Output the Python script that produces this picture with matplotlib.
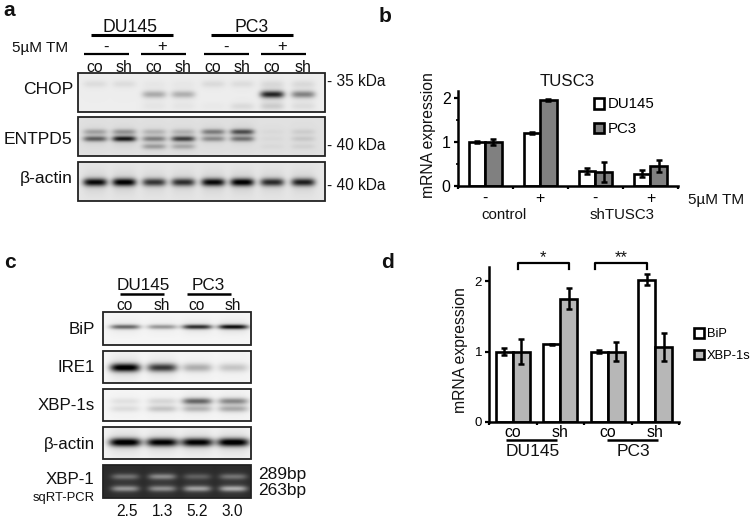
import numpy as np
import matplotlib
matplotlib.use("Agg")
import matplotlib.pyplot as plt
from matplotlib.patches import Rectangle

plt.rcParams['font.family'] = ['Liberation Sans', 'DejaVu Sans']

# panel b
b_groups = ['-', '+', '-', '+']
b_du145 = [1.0, 1.2, 0.33, 0.27]
b_du145_err = [0.02, 0.02, 0.06, 0.08]
b_pc3 = [1.0, 1.96, 0.31, 0.45]
b_pc3_err = [0.07, 0.03, 0.23, 0.13]

# panel d
d_groups = ['co', 'sh', 'co', 'sh']
d_bip = [1.0, 1.1, 1.0, 2.02]
d_bip_err = [0.05, 0.01, 0.02, 0.08]
d_xbp = [1.0, 1.75, 1.0, 1.06]
d_xbp_err = [0.18, 0.15, 0.14, 0.2]

# blots: band strength per lane, one row for each band
a_lanes = [95, 124, 154, 183, 213, 242, 272, 303]
chop_rows = [0.28, 0.55, 0.86]
chop_bands = [[0.07, 0.07, 0.02, 0.02, 0.08, 0.07, 0.06, 0.07],
              [0.0, 0.0, 0.28, 0.26, 0.0, 0.0, 0.85, 0.45],
              [0.0, 0.0, 0.03, 0.03, 0.02, 0.08, 0.12, 0.06]]
entpd_rows = [0.38, 0.56, 0.76]
entpd_bands = [[0.25, 0.3, 0.18, 0.17, 0.42, 0.62, 0.03, 0.08],
               [0.55, 0.85, 0.4, 0.68, 0.35, 0.45, 0.03, 0.1],
               [0.0, 0.0, 0.28, 0.22, 0.0, 0.0, 0.03, 0.06]]
a_actin_rows = [0.52]
a_actin_bands = [[0.95, 1.0, 0.75, 0.78, 0.95, 1.0, 0.8, 0.85]]

c_lanes = [125, 162, 197, 233]
bip_rows = [0.45]
bip_bands = [[0.6, 0.4, 0.85, 1.0]]
ire_rows = [0.52]
ire_bands = [[1.1, 0.8, 0.3, 0.2]]
xbp_rows = [0.38, 0.62]
xbp_bands = [[0.08, 0.12, 0.6, 0.45], [0.1, 0.2, 0.25, 0.3]]
c_actin_rows = [0.48]
c_actin_bands = [[1.1, 1.05, 1.05, 1.1]]
gel_rows = [0.35, 0.72]
gel_bands = [[0.3, 0.4, 0.22, 0.3], [0.45, 0.42, 0.5, 0.55]]


def blot(ax, x0, x1, y0, y1, lanes, rows, bands, bg, lane_w=13, band_h=0.09, dark=False):
    xs = np.arange(x0, x1, 0.5)
    ys = np.linspace(0, 1, int((y1 - y0) * 2))
    img = np.zeros((len(ys), len(xs)))
    for row, band in zip(rows, bands):
        for lane, s in zip(lanes, band):
            gx = np.exp(-((xs - lane) / lane_w) ** 4)
            gy = np.exp(-((ys - row) / band_h) ** 2)
            haze = np.exp(-((ys - row) / (band_h * 3)) ** 2)
            img += s * np.outer(gy + 0.1 * haze, gx)
    img = bg + img * 0.85 if dark else bg - img * 0.85
    ax.imshow(img, extent=(x0, x1, y1, y0), cmap='gray', vmin=0, vmax=1,
              aspect='auto', interpolation='bilinear', zorder=1)
    ax.add_patch(Rectangle((x0, y0), x1 - x0, y1 - y0, fill=False, ec='#222222', lw=1.3, zorder=2))


def bars(pos, groups, s1, e1, s2, e2, fc2, w, tick_size, pad):
    l, r, top, bot = pos
    a = fig.add_axes([l / 755, 1 - bot / 521, (r - l) / 755, (bot - top) / 521])
    a.patch.set_alpha(0)
    x = np.arange(len(groups)) + 0.5
    ek = dict(ecolor='k', elinewidth=1.8, capsize=2.5, capthick=1.8)
    h1 = a.bar(x - w / 2, s1, w, color='white', edgecolor='k', linewidth=1.9, yerr=e1, error_kw=ek)
    h2 = a.bar(x + w / 2, s2, w, color=fc2, edgecolor='k', linewidth=1.9, yerr=e2, error_kw=ek)
    a.set_xlim(0, len(groups))
    a.set_ylim(0, (bot - top) / yscale[pos])
    a.set_xticks(np.arange(len(groups) + 1))
    a.set_xticklabels([])
    a.set_xticks(x, groups, minor=True)
    a.tick_params(axis='x', which='major', length=2.5, width=1.6)
    a.tick_params(axis='x', which='minor', length=0, labelsize=11.4, pad=pad)
    a.set_yticks([0, 1, 2])
    a.tick_params(axis='y', length=3, width=1.6, labelsize=tick_size, pad=2)
    for s in ['top', 'right']:
        a.spines[s].set_visible(False)
    for s in ['left', 'bottom']:
        a.spines[s].set_linewidth(1.8)
    return a, h1, h2


fig = plt.figure(figsize=(7.55, 5.21), dpi=100)
ov = fig.add_axes([0, 0, 1, 1])

blot(ov, 78, 325, 73, 112, a_lanes, chop_rows, chop_bands, 0.93, lane_w=12, band_h=0.09)
blot(ov, 78, 325, 117, 156, a_lanes, entpd_rows, entpd_bands, 0.88, lane_w=12, band_h=0.07)
blot(ov, 78, 325, 162, 201, a_lanes, a_actin_rows, a_actin_bands, 0.9, lane_w=12, band_h=0.1)
blot(ov, 103, 251, 312, 345, c_lanes, bip_rows, bip_bands, 0.96, lane_w=15, band_h=0.07)
blot(ov, 103, 251, 351, 383, c_lanes, ire_rows, ire_bands, 0.96, lane_w=15, band_h=0.13)
blot(ov, 103, 251, 389, 421, c_lanes, xbp_rows, xbp_bands, 0.96, lane_w=15, band_h=0.1)
blot(ov, 103, 251, 427, 459, c_lanes, c_actin_rows, c_actin_bands, 0.95, lane_w=16, band_h=0.13)
blot(ov, 103, 251, 465, 498, c_lanes, gel_rows, gel_bands, 0.17, lane_w=14, band_h=0.09, dark=True)

ov.set_xlim(0, 755)
ov.set_ylim(521, 0)
ov.axis('off')


def label(x, y, s, size=11, ha='center', **kw):
    ov.text(x, y, s, fontsize=size, ha=ha, va='center', color='#111111', **kw)


def rule(x0, x1, y, lw=1.8):
    ov.plot([x0, x1], [y, y], color='k', lw=lw, solid_capstyle='butt')


# panel letters
for x, y, s in [(9, 10, 'a'), (385, 17, 'b'), (10, 262, 'c'), (387, 262, 'd')]:
    label(x, y, s, 15, fontweight='bold')

# panel a text
label(130, 27, 'DU145', 12.7)
label(252, 27, 'PC3', 12.7)
rule(91, 173, 35, 2.2)
rule(211, 293, 35, 2.2)
label(40, 48, '5µM TM', 11)
for x0, x1, s in [(84, 129, '-'), (141, 186, '+'), (204, 249, '-'), (261, 306, '+')]:
    rule(x0, x1, 54, 1.6)
    label((x0 + x1) / 2 - 1, 47, s, 12)
for x, s in zip(a_lanes, ['co', 'sh'] * 4):
    label(x, 68, s, 11.4)
label(73, 90, 'CHOP', 12.6, ha='right')
label(72, 140, 'ENTPD5', 12.6, ha='right')
label(73, 178, 'β-actin', 12.6, ha='right')
for y, s in [(82, '- 35 kDa'), (145, '- 40 kDa'), (185, '- 40 kDa')]:
    label(327, y, s, 11.2, ha='left')

# panel c text
label(143, 286, 'DU145', 12.3)
label(208, 286, 'PC3', 12.3)
rule(120, 164, 293.5)
rule(187, 231, 293.5)
for x, s in zip(c_lanes, ['co', 'sh', 'co', 'sh']):
    label(x, 305, s, 11.2)
for y, s in [(329, 'BiP'), (368, 'IRE1'), (406, 'XBP-1s'), (444, 'β-actin')]:
    label(95, y, s, 12.2, ha='right')
label(94, 480, 'XBP-1', 12.2, ha='right')
label(95, 498, 'sqRT-PCR', 9.4, ha='right')
label(258, 475, '289bp', 12.5, ha='left')
label(258, 491, '263bp', 12.5, ha='left')
for x, s in zip([127, 163, 197, 232], ['2.5', '1.3', '5.2', '3.0']):
    label(x, 511, s, 11.2)

# panel b text
label(567, 82, 'TUSC3', 12.2)
label(429, 135, 'mRNA expression', 11.3, rotation=90)
label(688, 200, '5µM TM', 11, ha='left')
label(504, 215, 'control', 10.8)
label(622, 215, 'shTUSC3', 10.8)

# panel d text
label(461, 350, 'mRNA expression', 11.3, rotation=90)
rule(506, 557, 440)
rule(607, 658, 440)
label(533, 452, 'DU145', 12.5)
label(633, 452, 'PC3', 12.5)
for x0, x1 in [(517.5, 569), (595, 647)]:
    ov.plot([x0, x0, x1, x1], [269, 263, 263, 269], color='k', lw=1.6)
label(543, 258, '*', 12)
label(621, 258, '**', 12)

pos_b = (457.5, 678, 91, 185.5)
pos_d = (489, 679, 267, 422)
yscale = {pos_b: 43.6, pos_d: 70.5}

ab, h1, h2 = bars(pos_b, b_groups, b_du145, b_du145_err, b_pc3, b_pc3_err, '#808080', 0.3, 11.5, 4)
ab.set_yticks([0.5, 1.5], minor=True)
ab.tick_params(axis='y', which='minor', length=1.5, width=1.2)
ab.legend([h1, h2], ['DU145', 'PC3'], loc='upper left', bbox_to_anchor=(592 / 755, 1 - 96 / 521),
          bbox_transform=fig.transFigure, frameon=False, fontsize=10.8, handlelength=0.72, handleheight=0.72,
          handletextpad=0.25, labelspacing=0.72, borderaxespad=0, borderpad=0.1)

ad, h3, h4 = bars(pos_d, d_groups, d_bip, d_bip_err, d_xbp, d_xbp_err, '#b7b7b7', 0.36, 9.5, 2)
ad.legend([h3, h4], ['BiP', 'XBP-1s'], loc='upper left', bbox_to_anchor=(693 / 755, 1 - 327 / 521),
          bbox_transform=fig.transFigure, frameon=False, fontsize=9.3, handlelength=0.72, handleheight=0.72,
          handletextpad=0.25, labelspacing=0.75, borderaxespad=0, borderpad=0.1)

fig.savefig('out.png', dpi=100)
